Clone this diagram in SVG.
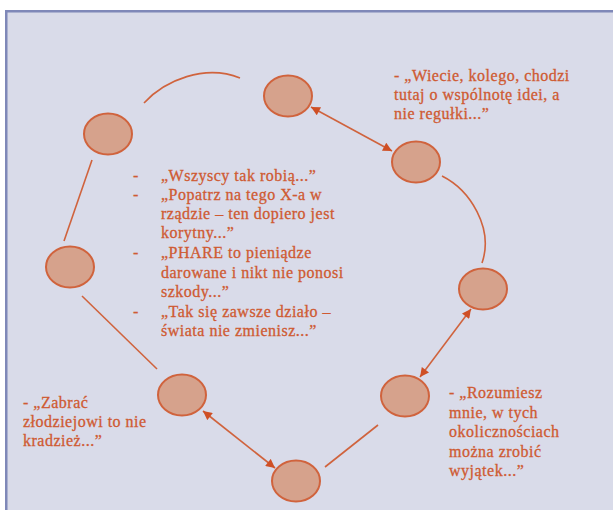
<svg xmlns="http://www.w3.org/2000/svg" width="613" height="510" viewBox="0 0 613 510">
<defs>
<style>
.node{fill:#d6a28c;stroke:#d0633d;stroke-width:2}
.ln{fill:none;stroke:#d0633d;stroke-width:1.6}
.t{font-family:"Liberation Serif","Times New Roman",serif;font-size:16px;letter-spacing:0.5px;fill:#cf5a32;stroke:#cf5a32;stroke-width:0.3}
</style>
<marker id="ah" viewBox="0 0 10 10" refX="10" refY="5" markerWidth="11" markerHeight="9" markerUnits="userSpaceOnUse" orient="auto-start-reverse">
<path d="M0,0 L10,5 L0,10 z" fill="#cf4f25"/>
</marker>
</defs>
<rect x="0" y="0" width="613" height="510" fill="#ffffff"/>
<rect x="5" y="10" width="608" height="500" fill="#d9dbe9"/>
<rect x="5" y="10" width="608" height="2.5" fill="#7f88b8"/>
<rect x="5" y="10" width="2.5" height="500" fill="#7f88b8"/>

<g id="connectors">
<path class="ln" d="M144,103 C165,80 205,64 240,78"/>
<path class="ln" d="M442,176 C470,190 494,228 482,263"/>
<line class="ln" x1="92" y1="160" x2="64" y2="241"/>
<line class="ln" x1="82" y1="296" x2="157" y2="369"/>
<line class="ln" x1="325" y1="467" x2="378" y2="425"/>
<line class="ln" x1="311" y1="107" x2="392" y2="151" marker-start="url(#ah)" marker-end="url(#ah)"/>
<line class="ln" x1="420" y1="377" x2="471" y2="309" marker-start="url(#ah)" marker-end="url(#ah)"/>
<line class="ln" x1="203" y1="411" x2="275" y2="468" marker-start="url(#ah)" marker-end="url(#ah)"/>
</g>

<g id="node-a"><ellipse class="node" cx="288" cy="96" rx="24" ry="20.5"/></g>
<g id="node-b"><ellipse class="node" cx="416" cy="162" rx="24" ry="20.5"/></g>
<g id="node-c"><ellipse class="node" cx="483" cy="289" rx="24" ry="20.5"/></g>
<g id="node-d"><ellipse class="node" cx="405" cy="396" rx="24" ry="20.5"/></g>
<g id="node-e"><ellipse class="node" cx="296" cy="481" rx="24" ry="20.5"/></g>
<g id="node-f"><ellipse class="node" cx="182" cy="395" rx="24" ry="20.5"/></g>
<g id="node-g"><ellipse class="node" cx="70" cy="267" rx="24" ry="20.5"/></g>
<g id="node-h"><ellipse class="node" cx="108" cy="134" rx="24" ry="20.5"/></g>

<g id="text-top-right" class="t">
<text x="394" y="81">- „Wiecie, kolego, chodzi</text>
<text x="394" y="100">tutaj o wspólnotę idei, a</text>
<text x="394" y="119">nie regułki...”</text>
</g>

<g id="text-center" class="t">
<text x="133" y="181">-</text><text x="161" y="181">„Wszyscy tak robią...”</text>
<text x="133" y="200">-</text><text x="161" y="200">„Popatrz na tego X-a w</text>
<text x="161" y="219">rządzie – ten dopiero jest</text>
<text x="161" y="238">korytny...”</text>
<text x="133" y="258">-</text><text x="161" y="258">„PHARE to pieniądze</text>
<text x="161" y="278">darowane i nikt nie ponosi</text>
<text x="161" y="297">szkody...”</text>
<text x="133" y="317">-</text><text x="161" y="317">„Tak się zawsze działo –</text>
<text x="161" y="336">świata nie zmienisz...”</text>
</g>

<g id="text-bottom-left" class="t">
<text x="23" y="408">- „Zabrać</text>
<text x="23" y="427">złodziejowi to nie</text>
<text x="23" y="446">kradzież...”</text>
</g>

<g id="text-bottom-right" class="t">
<text x="449" y="398">- „Rozumiesz</text>
<text x="449" y="418">mnie, w tych</text>
<text x="449" y="437">okolicznościach</text>
<text x="449" y="457">można zrobić</text>
<text x="449" y="476">wyjątek...”</text>
</g>
</svg>
